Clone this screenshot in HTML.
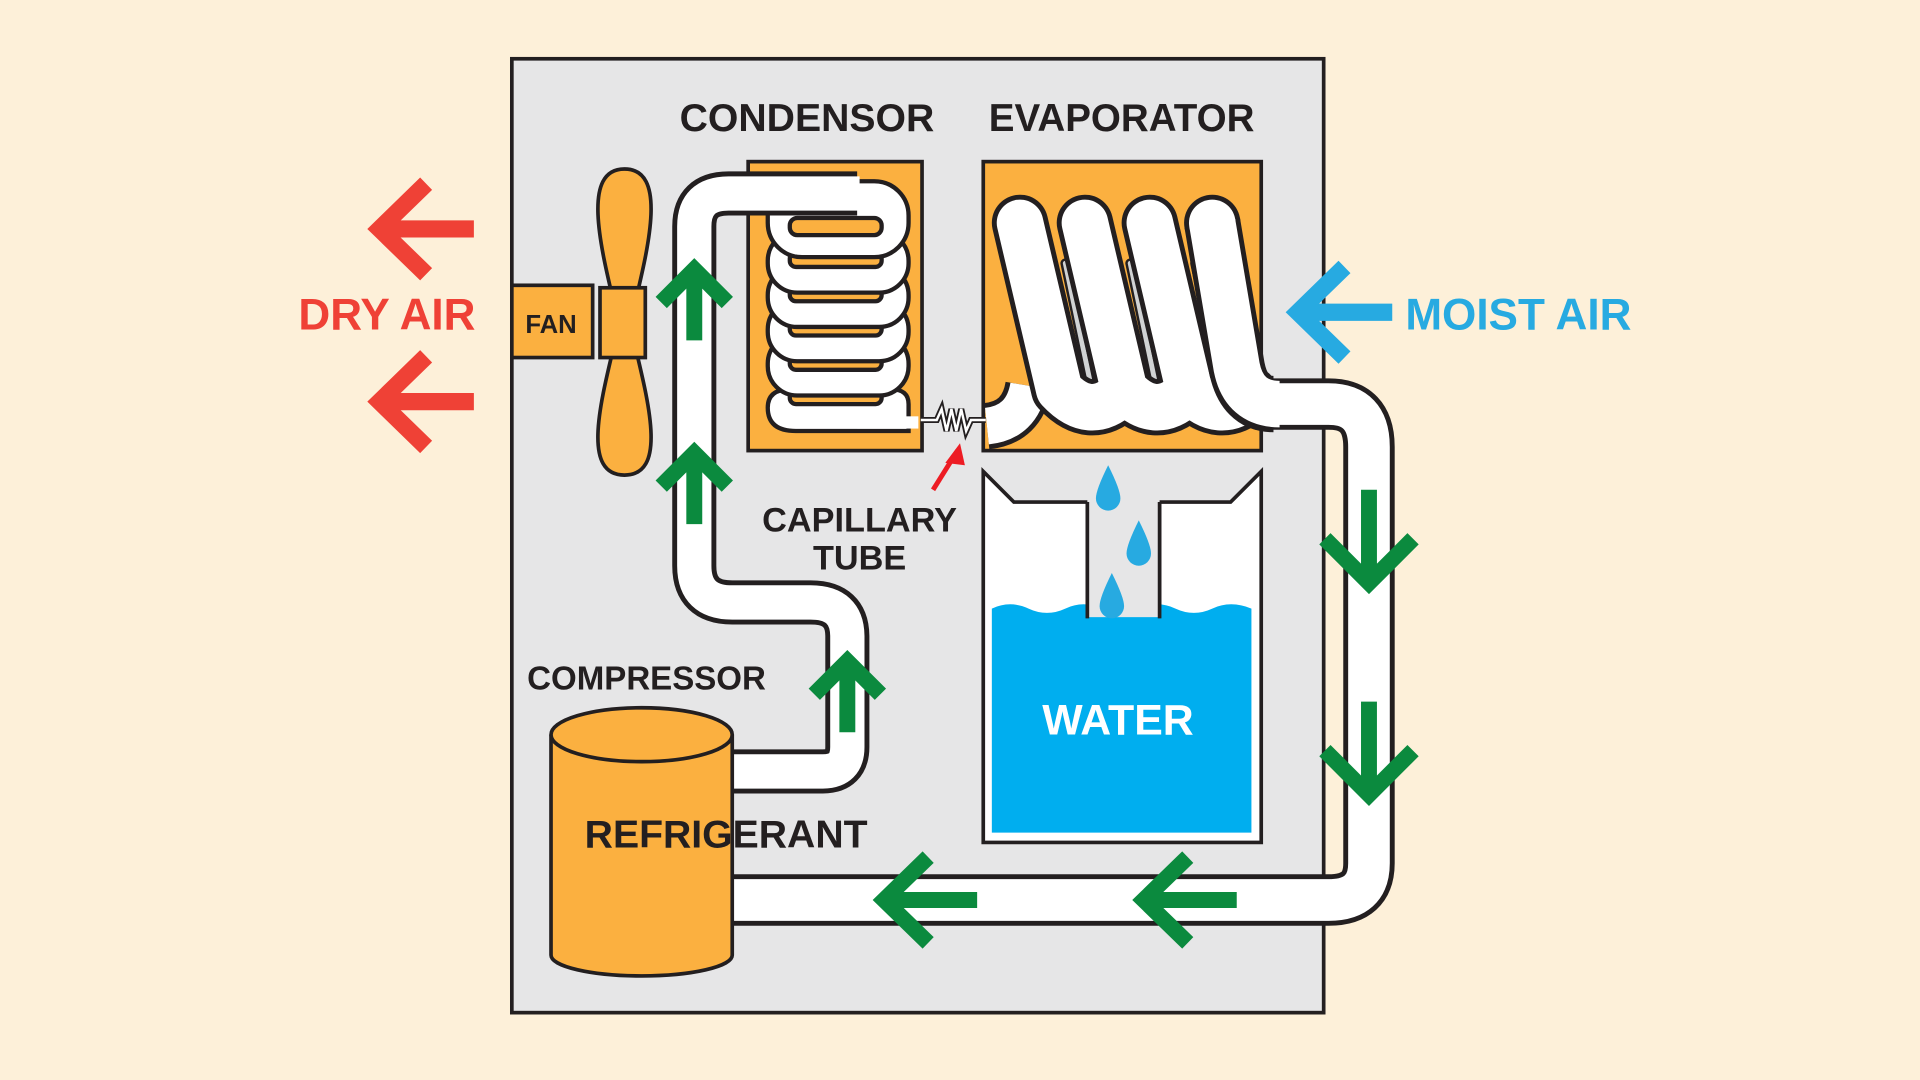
<!DOCTYPE html>
<html><head><meta charset="utf-8"><style>
html,body{margin:0;padding:0;background:#fdf0d9;}
svg{display:block}
text{font-family:"Liberation Sans",Arial,sans-serif;font-weight:bold;}
</style></head><body>
<svg width="1920" height="1080" viewBox="0 0 1568 882" xmlns="http://www.w3.org/2000/svg">
<rect width="1568" height="882" fill="#fdf0d9"/>
<rect x="418" y="48" width="663" height="779" fill="#e6e6e7" stroke="#231f20" stroke-width="3"/>

<rect x="611" y="132" width="142" height="236" fill="#fbb040" stroke="#231f20" stroke-width="3"/>
<rect x="803" y="132" width="227" height="236" fill="#fbb040" stroke="#231f20" stroke-width="3"/>

<g stroke="#231f20" stroke-width="3.5">
<path d="M645 318 L728 318 Q742 318 742 330 L742 352 L650 352 Q627 352 627 333 Q627 318 645 318Z" fill="#fff"/>
<rect x="645" y="318" width="75" height="12" rx="5" fill="#fbb040"/>
<rect x="627" y="273" width="115" height="50" rx="24" fill="#fff"/>
<rect x="645" y="290" width="75" height="12" rx="5" fill="#fbb040"/>
<rect x="627" y="245" width="115" height="50" rx="24" fill="#fff"/>
<rect x="645" y="262" width="75" height="12" rx="5" fill="#fbb040"/>
<rect x="627" y="217" width="115" height="50" rx="24" fill="#fff"/>
<rect x="645" y="234" width="75" height="12" rx="5" fill="#fbb040"/>
<rect x="627" y="189" width="115" height="50" rx="24" fill="#fff"/>
<rect x="645" y="206" width="75" height="12" rx="5" fill="#fbb040"/>
<rect x="627" y="148" width="115" height="62" rx="28" fill="#fff"/>
<rect x="645" y="178" width="75" height="14" rx="6" fill="#fbb040"/>
</g>
<rect x="700" y="340" width="50" height="10" fill="#fff"/>

<g fill="none" stroke-linejoin="round">
<path d="M598 630 L672 630 Q692 630 692 610 L692 520 Q692 492 662 492 L598 492 Q567 492 567 462 L567 185 Q567 158 595 158 L700 158" stroke="#231f20" stroke-width="36"/>
<path d="M598 630 L672 630 Q692 630 692 610 L692 520 Q692 492 662 492 L598 492 Q567 492 567 462 L567 185 Q567 158 595 158 L702 158" stroke="#fff" stroke-width="28"/>
<path d="M1025 330 L1085 330 Q1118 330 1118 365 L1118 705 Q1118 735 1085 735 L598 735" stroke="#231f20" stroke-width="42"/>
<path d="M1020 330 L1085 330 Q1118 330 1118 365 L1118 705 Q1118 735 1085 735 L598 735" stroke="#fff" stroke-width="34"/>
</g>

<path d="M752 343 L765 343 L769 334 L773 352 L777 334 L781 352 L785 334 L789 352 L793 343 L805 343" fill="none" stroke="#231f20" stroke-width="5"/>
<path d="M752 343 L765 343 L769 334 L773 352 L777 334 L781 352 L785 334 L789 352 L793 343 L805 343" fill="none" stroke="#fff" stroke-width="2"/>

<g stroke-linecap="round" fill="none">
<g stroke="#231f20" stroke-width="8">
<path d="M870 215 L892 320 M923 215 L945 320 M976 215 L998 320"/>
</g>
<g stroke="#d1d3d4" stroke-width="4">
<path d="M870 215 L892 320 M923 215 L945 320 M976 215 L998 320"/>
</g>
</g>
<g fill="none" stroke-linejoin="round">
<path d="M806 348 Q835 345 840 315" stroke="#231f20" stroke-width="38"/>
<path d="M806 348 Q835 345 840 315" stroke="#fff" stroke-width="30"/>
</g>
<g fill="none" stroke-linecap="round" stroke-linejoin="round">
<g stroke="#231f20" stroke-width="46">
<path d="M833 182 L865 318 Q890 345 915 322"/>
<path d="M886 182 L918 318 Q943 345 968 322"/>
<path d="M939 182 L971 318 Q996 345 1021 322"/>
</g>
<g stroke="#fff" stroke-width="38">
<path d="M833 182 L865 318 Q890 345 915 322"/>
<path d="M886 182 L918 318 Q943 345 968 322"/>
<path d="M939 182 L971 318 Q996 345 1021 322"/>
</g>
</g>
<g fill="none" stroke-linejoin="round" stroke-linecap="butt">
<circle cx="990" cy="182" r="23" fill="#231f20"/>
<path d="M990 182 L1010 300 Q1016 330 1040 330" stroke="#231f20" stroke-width="46"/>
<circle cx="990" cy="182" r="19" fill="#fff"/>
<path d="M990 182 L1010 300 Q1016 330 1045 330" stroke="#fff" stroke-width="38"/>
</g>

<path d="M803 385 L828 410 L888 410 L888 505 L947 505 L947 410 L1005 410 L1030 385 L1030 688 L803 688 Z" fill="#fff" stroke="#231f20" stroke-width="3"/>
<path d="M810 497 Q825 490 840 497 Q855 504 870 497 Q885 490 900 497 Q915 504 930 497 Q945 490 960 497 Q975 504 990 497 Q1005 490 1022 497 L1022 680 L810 680 Z" fill="#00aeef"/>
<rect x="888" y="400" width="59" height="104" fill="#e6e6e7"/>
<path d="M888 410 L888 505 M947 410 L947 505" stroke="#231f20" stroke-width="3"/>
<g fill="#27aae1">
<path d="M905 380 Q895 400 895 407 A10 10 0 0 0 915 407 Q915 400 905 380Z"/>
<path d="M930 425 Q920 445 920 452 A10 10 0 0 0 940 452 Q940 445 930 425Z"/>
<path d="M908 468 Q898 488 898 495 A10 10 0 0 0 918 495 Q918 488 908 468Z"/>
</g>

<path d="M450 600 L450 780 A74 17 0 0 0 598 780 L598 600" fill="#fbb040" stroke="#231f20" stroke-width="3"/>
<ellipse cx="524" cy="600" rx="74" ry="22" fill="#fbb040" stroke="#231f20" stroke-width="3"/>

<path d="M510 138 C545 138 530 200 518 250 L502 250 C490 200 475 138 510 138Z" fill="#fbb040" stroke="#231f20" stroke-width="3"/>
<path d="M510 388 C545 388 530 330 518 280 L502 280 C490 330 475 388 510 388Z" fill="#fbb040" stroke="#231f20" stroke-width="3"/>
<rect x="490" y="235" width="37" height="57" fill="#fbb040" stroke="#231f20" stroke-width="3"/>
<rect x="418" y="233" width="66" height="59" fill="#fbb040" stroke="#231f20" stroke-width="3"/>

<g stroke="#0b8a3e" stroke-width="13" fill="none">
<path d="M540 247 L567 220 L594 247 M567 222 L567 278"/>
<path d="M540 397 L567 370 L594 397 M567 372 L567 428"/>
<path d="M665 567 L692 540 L719 567 M692 542 L692 598"/>
<path d="M1082 440 L1118 476 L1154 440 M1118 400 L1118 474"/>
<path d="M1082 613 L1118 649 L1154 613 M1118 573 L1118 647"/>
<path d="M758 700 L722 735 L758 770 M724 735 L798 735"/>
<path d="M970 700 L934 735 L970 770 M936 735 L1010 735"/>
</g>
<g stroke="#ef4136" stroke-width="14" fill="none">
<path d="M348 150 L310 187 L348 224 M312 187 L387 187"/>
<path d="M348 291 L310 328 L348 365 M312 328 L387 328"/>
</g>
<path d="M1098 218 L1060 255 L1098 292 M1062 255 L1137 255" stroke="#27aae1" stroke-width="14" fill="none"/>
<path d="M782 368 L762 400" stroke="#ed1c24" stroke-width="4"/>
<path d="M784 362 L772 378 L788 380Z" fill="#ed1c24"/>

<g fill="#231f20" text-anchor="middle">
<text x="659" y="107" font-size="32">CONDENSOR</text>
<text x="916" y="107" font-size="31.5">EVAPORATOR</text>
<text x="450" y="272" font-size="21">FAN</text>
<text x="702" y="434" font-size="28">CAPILLARY</text>
<text x="702" y="465" font-size="28">TUBE</text>
<text x="528" y="563" font-size="27">COMPRESSOR</text>
<text x="593" y="692" font-size="32">REFRIGERANT</text>
</g>
<text x="913" y="600" font-size="35" fill="#fff" text-anchor="middle">WATER</text>
<text x="316" y="269" font-size="36" fill="#ef4136" text-anchor="middle">DRY AIR</text>
<text x="1240" y="269" font-size="36" fill="#27aae1" text-anchor="middle">MOIST AIR</text>
</svg>
</body></html>
